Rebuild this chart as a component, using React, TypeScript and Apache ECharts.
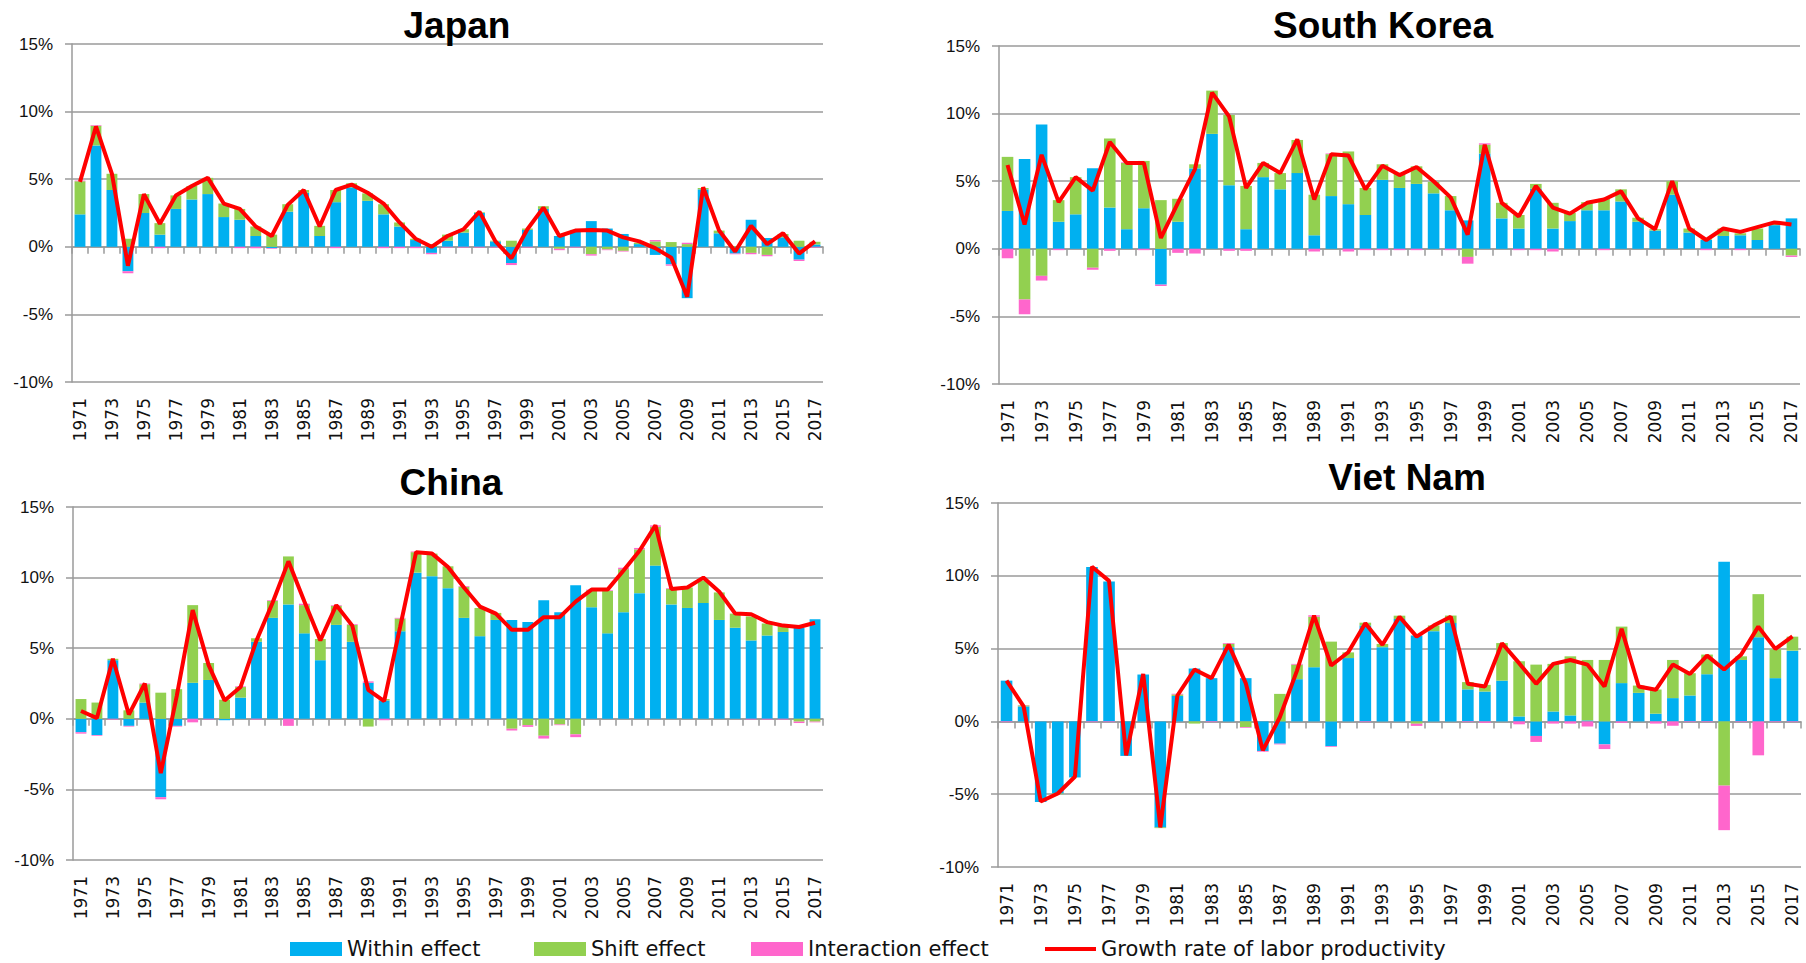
import React, { useEffect, useRef } from "react";
import * as echarts from "echarts";

const years = [
  "1971", "1972", "1973", "1974", "1975", "1976", "1977", "1978", "1979", "1980",
  "1981", "1982", "1983", "1984", "1985", "1986", "1987", "1988", "1989", "1990",
  "1991", "1992", "1993", "1994", "1995", "1996", "1997", "1998", "1999", "2000",
  "2001", "2002", "2003", "2004", "2005", "2006", "2007", "2008", "2009", "2010",
  "2011", "2012", "2013", "2014", "2015", "2016", "2017",
];

const seriesNames = ["Within effect", "Shift effect", "Interaction effect", "Growth rate of labor productivity"];

// Japan
const jpWithin = [2.4, 7.5, 4.2, -1.8, 2.5, 0.9, 2.8, 3.5, 3.9, 2.2, 2.0, 0.8, -0.1, 2.6, 4.0, 0.8, 3.3, 4.4, 3.4, 2.4, 1.5, 0.5, -0.45, 0.45, 1.05, 2.5, 0.4, -1.2, 1.25, 2.8, 0.8, 1.2, 1.9, 1.35, 0.95, 0.2, -0.6, -1.3, -3.8, 4.25, 1.0, -0.5, 2.0, 0.65, 0.7, -0.95, 0.17];
const jpShift = [2.45, 1.45, 1.2, 0.6, 1.4, 0.85, 1.0, 1.0, 1.2, 1.0, 0.8, 0.7, 0.9, 0.55, 0.2, 0.75, 0.9, 0.3, 0.55, 0.75, 0.3, 0.1, 0.2, 0.45, 0.25, 0.05, 0.05, 0.45, 0.1, 0.2, -0.15, 0.05, -0.55, -0.2, -0.3, 0.1, 0.4, 0.35, 0.2, 0.1, 0.2, 0.05, -0.45, -0.6, 0.25, 0.45, 0.2];
const jpInter = [0.05, 0.05, 0, -0.15, 0, -0.1, 0, 0, 0, 0, -0.1, -0.1, -0.05, 0, 0, 0, -0.1, 0, 0, -0.1, -0.1, -0.1, -0.1, -0.05, -0.05, -0.05, -0.05, -0.15, -0.05, 0, -0.1, -0.05, -0.1, -0.05, -0.05, 0, 0.1, -0.1, 0.1, 0, 0, -0.05, -0.1, -0.1, 0, -0.1, -0.05];
const jpGrowth = [4.8, 8.9, 5.4, -1.4, 3.9, 1.7, 3.8, 4.5, 5.1, 3.2, 2.8, 1.5, 0.8, 3.1, 4.2, 1.5, 4.2, 4.6, 4.0, 3.2, 1.8, 0.6, 0.0, 0.8, 1.3, 2.6, 0.4, -0.85, 1.3, 2.9, 0.8, 1.2, 1.25, 1.2, 0.7, 0.4, -0.1, -0.8, -3.7, 4.4, 1.2, -0.35, 1.55, 0.2, 1.0, -0.5, 0.4];

// South Korea
const skWithin = [2.8, 6.65, 9.2, 2.0, 2.55, 5.95, 3.05, 1.45, 3.0, -2.65, 2.0, 5.95, 8.5, 4.7, 1.45, 5.3, 4.4, 5.6, 1.0, 3.9, 3.3, 2.5, 5.1, 4.5, 4.8, 4.1, 2.85, 2.1, 7.05, 2.25, 1.5, 4.45, 1.5, 2.05, 2.85, 2.85, 3.5, 2.0, 1.35, 4.0, 1.2, 0.65, 0.95, 1.0, 0.65, 1.75, 2.25];
const skShift = [4.0, -3.75, -2.0, 1.6, 2.75, -1.4, 5.1, 4.9, 3.5, 3.6, 1.7, 0.3, 3.2, 5.2, 3.2, 1.05, 1.2, 2.45, 3.0, 3.1, 3.9, 2.0, 1.15, 1.1, 1.3, 0.85, 1.05, -0.6, 0.65, 1.15, 1.0, 0.35, 1.9, 0.6, 0.6, 0.85, 0.9, 0.3, 0.1, 1.0, 0.3, 0.05, 0.55, 0.15, 0.85, 0.2, -0.5];
const skInter = [-0.7, -1.1, -0.35, -0.1, 0, -0.15, -0.15, 0.05, -0.1, -0.1, -0.3, -0.35, 0, -0.15, -0.15, 0, 0, 0, -0.2, 0.05, -0.2, -0.1, -0.1, -0.1, -0.1, 0, -0.1, -0.5, 0.1, 0, -0.1, -0.1, -0.2, 0, 0, -0.1, 0, 0, 0, 0, 0, -0.1, 0, -0.1, 0, 0, -0.1];
const skGrowth = [6.2, 1.8, 6.95, 3.45, 5.3, 4.3, 7.9, 6.35, 6.35, 0.8, 3.4, 5.9, 11.55, 9.8, 4.5, 6.35, 5.6, 8.1, 3.65, 7.0, 6.9, 4.4, 6.15, 5.45, 6.05, 5.0, 3.8, 1.05, 7.7, 3.4, 2.4, 4.65, 3.05, 2.6, 3.4, 3.65, 4.25, 2.25, 1.45, 5.0, 1.5, 0.65, 1.5, 1.25, 1.6, 1.95, 1.8];

// China
const cnWithin = [-0.95, -1.15, 4.15, -0.5, 1.15, -5.55, -0.5, 2.55, 2.75, -0.1, 1.5, 5.45, 7.15, 8.1, 6.05, 4.15, 6.65, 5.45, 2.55, 1.3, 6.2, 10.35, 10.1, 9.25, 7.15, 5.85, 7.0, 7.0, 6.85, 8.4, 7.55, 9.45, 7.9, 6.05, 7.55, 8.9, 10.85, 8.1, 7.85, 8.2, 7.0, 6.45, 5.55, 5.9, 6.15, 6.45, 7.05];
const cnShift = [1.4, 1.15, 0.1, 0.6, 1.3, 1.85, 2.1, 5.5, 1.2, 1.35, 0.75, 0.25, 1.2, 3.4, 2.0, 1.5, 1.35, 1.2, -0.55, 0.1, 0.9, 1.45, 1.6, 1.55, 2.2, 2.0, 0.5, -0.7, -0.45, -1.2, -0.4, -1.1, 1.2, 3.0, 3.05, 3.1, 2.75, 1.1, 1.45, 1.6, 1.95, 1.0, 1.7, 0.85, 0.45, -0.2, -0.2];
const cnInter = [-0.1, -0.05, -0.05, -0.05, 0.05, -0.15, -0.05, -0.25, -0.05, 0, 0.05, -0.05, 0.05, -0.5, 0.1, 0, 0.05, 0.05, 0.1, -0.1, 0.05, 0.05, 0, -0.05, 0.05, 0, 0, -0.12, -0.12, -0.2, -0.05, -0.2, 0.05, 0.05, 0.1, 0.1, 0.1, 0.05, 0, 0, 0, 0, -0.05, -0.05, -0.05, -0.1, -0.05];
const cnGrowth = [0.55, 0.05, 4.25, 0.3, 2.5, -3.85, 1.6, 7.7, 3.8, 1.3, 2.25, 5.55, 8.2, 11.15, 8.3, 5.55, 8.05, 6.6, 2.05, 1.25, 6.5, 11.8, 11.7, 10.75, 9.3, 7.95, 7.45, 6.3, 6.3, 7.2, 7.2, 8.3, 9.15, 9.15, 10.5, 11.9, 13.7, 9.2, 9.3, 10.0, 9.0, 7.45, 7.4, 6.85, 6.6, 6.5, 6.8];

// Viet Nam
const vnWithin = [2.8, 1.03, -5.53, -4.95, -3.85, 10.6, 9.6, -2.37, 3.22, -7.28, 1.75, 3.63, 2.97, 5.1, 2.97, -2.03, -1.53, 2.9, 3.72, -1.7, 4.35, 6.58, 5.1, 7.03, 5.9, 6.2, 6.75, 2.2, 2.05, 2.8, 0.34, -1.0, 0.68, 0.41, 0.07, -1.58, 2.63, 1.96, 0.53, 1.6, 1.78, 3.24, 10.96, 4.22, 5.78, 2.97, 4.86];
const vnShift = [0, 0.07, 0, -0.05, 0, 0, 0, 0, 0, -0.05, 0.1, -0.15, 0, 0.23, -0.39, 0, 1.89, 1.0, 3.47, 5.48, 0.39, 0.2, 0.22, 0.23, -0.16, 0.39, 0.52, 0.5, 0.46, 2.58, 3.79, 3.9, 3.27, 4.06, 4.15, 4.22, 3.88, 0.5, 1.66, 2.62, 1.53, 1.35, -4.41, 0.25, 2.96, 1.98, 0.96];
const vnInter = [-0.05, 0.02, 0, 0, 0, -0.05, -0.05, 0, 0, 0, 0.05, 0, -0.05, 0.05, -0.05, -0.05, -0.05, 0.05, 0.1, -0.05, 0, -0.05, 0, 0, -0.15, 0, 0, -0.05, -0.1, 0, -0.2, -0.41, -0.15, -0.15, -0.35, -0.32, -0.1, 0, -0.15, -0.3, -0.05, -0.05, -3.06, -0.05, -2.33, -0.05, -0.05];
const vnGrowth = [2.8, 1.03, -5.5, -4.95, -3.8, 10.62, 9.65, -2.33, 3.26, -7.28, 1.78, 3.56, 2.97, 5.27, 2.63, -1.99, 0.3, 3.49, 7.26, 3.84, 4.75, 6.74, 5.27, 7.19, 5.82, 6.58, 7.19, 2.58, 2.4, 5.37, 4.0, 2.58, 3.95, 4.22, 3.9, 2.4, 6.35, 2.4, 2.17, 3.9, 3.26, 4.52, 3.56, 4.59, 6.51, 4.98, 5.84];

const yTicks = { min: -10, max: 15, interval: 5 };

const panelData = [
  { title: "Japan", within: jpWithin, shift: jpShift, inter: jpInter, growth: jpGrowth },
  { title: "South Korea", within: skWithin, shift: skShift, inter: skInter, growth: skGrowth },
  { title: "China", within: cnWithin, shift: cnShift, inter: cnInter, growth: cnGrowth },
  { title: "Viet Nam", within: vnWithin, shift: vnShift, inter: vnInter, growth: vnGrowth },
];

const layout = [
  { left: 72, top: 44, width: 751, height: 338, titleX: 452, titleY: 2, yFont: 17 },
  { left: 999, top: 46, width: 801, height: 338, titleX: 1378, titleY: 2, yFont: 17 },
  { left: 73, top: 507, width: 750, height: 353, titleX: 446, titleY: 459, yFont: 17 },
  { left: 998, top: 503, width: 803, height: 364, titleX: 1402, titleY: 454, yFont: 17 },
];

const colors = { within: "#00B0F0", shift: "#92D050", inter: "#FF66CC", growth: "#FF0000" };
const gridColor = "#9a9a9a";

export default function App() {
  const ref = useRef<HTMLDivElement>(null);

  useEffect(() => {
    if (!ref.current) return;
    const chart = echarts.init(ref.current, null, { renderer: "svg" });

    const grids: any[] = [];
    const xAxes: any[] = [];
    const yAxes: any[] = [];
    const series: any[] = [];
    const titles: any[] = [];

    panelData.forEach((p, i) => {
      const L = layout[i];
      grids.push({ left: L.left, top: L.top, width: L.width, height: L.height, containLabel: false });
      titles.push({
        text: p.title,
        left: L.titleX,
        top: L.titleY,
        textAlign: "center",
        textStyle: { fontSize: 37, fontWeight: "bold", fontFamily: "Liberation Sans", color: "#000" },
      });
      xAxes.push({
        type: "category",
        gridIndex: i,
        data: years,
        position: "bottom",
        axisLine: { show: false, onZero: false },
        axisTick: { show: false },
        splitLine: { show: false },
        axisLabel: { rotate: 90, interval: 1, margin: 16, fontSize: 17, fontFamily: "DejaVu Sans", color: "#111" },
      });
      xAxes.push({
        type: "category",
        gridIndex: i,
        data: years,
        position: "bottom",
        axisLine: { show: true, onZero: true, lineStyle: { color: gridColor, width: 1.5 } },
        axisTick: { show: true, interval: 0, length: 7, lineStyle: { color: gridColor, width: 1.5 } },
        axisLabel: { show: false },
        splitLine: { show: false },
      });
      yAxes.push({
        type: "value",
        gridIndex: i,
        min: yTicks.min,
        max: yTicks.max,
        interval: yTicks.interval,
        axisLine: { show: true, lineStyle: { color: gridColor, width: 1.5 } },
        axisTick: { show: true, length: 7, lineStyle: { color: gridColor, width: 1.5 } },
        splitLine: { show: true, lineStyle: { color: gridColor, width: 1.5 } },
        axisLabel: { formatter: "{value}%", margin: 19, fontSize: L.yFont, fontFamily: "Liberation Sans", color: "#111" },
      });
      const stack = "s" + i;
      const barCommon = { type: "bar", stack, xAxisIndex: 2 * i, yAxisIndex: i, barCategoryGap: "32%" };
      series.push({ ...barCommon, name: seriesNames[0], data: p.within, itemStyle: { color: colors.within } });
      series.push({ ...barCommon, name: seriesNames[1], data: p.shift, itemStyle: { color: colors.shift } });
      series.push({ ...barCommon, name: seriesNames[2], data: p.inter, itemStyle: { color: colors.inter } });
      series.push({
        type: "line",
        name: seriesNames[3],
        xAxisIndex: 2 * i,
        yAxisIndex: i,
        data: p.growth,
        symbol: "none",
        z: 5,
        lineStyle: { color: colors.growth, width: 4 },
        itemStyle: { color: colors.growth },
      });
    });

    const legendText = { fontSize: 21, fontFamily: "DejaVu Sans", color: "#111", lineHeight: 24 };
    const legendPos = [288, 532, 749, 1043];
    const legends = seriesNames.map((n, k) => ({
      data: [{ name: n, icon: "rect" }],
      left: legendPos[k],
      top: 935,
      padding: 2,
      itemWidth: k === 3 ? 51 : 52,
      itemHeight: k === 3 ? 4 : 14,
      textStyle: legendText,
      selectedMode: false,
    }));

    chart.setOption({
      animation: false,
      backgroundColor: "#fff",
      title: titles,
      legend: legends,
      grid: grids,
      xAxis: xAxes,
      yAxis: yAxes,
      series,
    });

    return () => chart.dispose();
  }, []);

  return (
    <div
      ref={ref}
      style={{ position: "fixed", left: 0, top: 0, width: 1806, height: 963, background: "#fff" }}
    />
  );
}
